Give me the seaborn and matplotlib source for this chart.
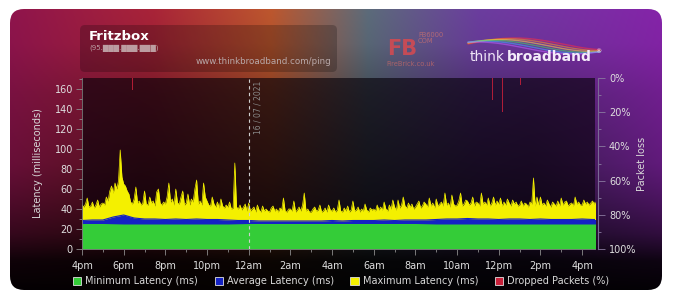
import numpy as np
import pandas as pd
import matplotlib
matplotlib.use("Agg")
import matplotlib.pyplot as plt
import seaborn as sns
from matplotlib.patches import FancyBboxPatch, Patch

# ---------------- data ----------------
x_tick_labels = ["4pm", "6pm", "8pm", "10pm", "12am", "2am", "4am",
                 "6am", "8am", "10am", "12pm", "2pm", "4pm"]
left_ticks = [0, 20, 40, 60, 80, 100, 120, 140, 160]
right_tick_labels = ["0%", "20%", "40%", "60%", "80%", "100%"]

# maximum latency, 5-minute samples starting 4pm (hours since 4pm = i/12)
max_latency = [
    44, 42, 45, 51, 42, 43, 47, 41, 44, 49, 42, 45,
    46, 44, 52, 48, 58, 63, 56, 66, 60, 68, 99, 72,
    65, 63, 58, 55, 47, 45, 50, 62, 46, 48, 44, 46,
    58, 45, 44, 52, 46, 48, 43, 57, 60, 46, 44, 47,
    45, 52, 66, 47, 50, 44, 60, 46, 45, 52, 58, 44,
    46, 55, 44, 50, 47, 60, 69, 45, 48, 44, 66, 52,
    48, 44, 43, 52, 45, 42, 47, 41, 50, 43, 41, 44,
    42, 47, 40, 41, 86, 42, 40, 44, 39, 42, 45, 38,
    46, 38, 40, 42, 37, 44, 39, 37, 43, 38, 40, 38,
    37, 41, 43, 38, 40, 37, 41, 39, 51, 38, 37, 40,
    40, 38, 48, 37, 39, 42, 38, 44, 56, 38, 40, 37,
    37, 40, 42, 38, 39, 44, 37, 38, 41, 37, 44, 39,
    38, 41, 37, 39, 49, 38, 37, 41, 38, 43, 37, 39,
    48, 38, 39, 42, 37, 40, 38, 45, 39, 37, 41, 39,
    40, 38, 44, 39, 42, 39, 47, 40, 38, 44, 40, 49,
    42, 39, 49, 41, 44, 52, 43, 41, 46, 42, 45, 40,
    42, 45, 48, 41, 43, 47, 45, 42, 51, 43, 46, 41,
    50, 43, 45, 47, 43, 56, 44, 46, 42, 54, 45, 43,
    44, 48, 56, 43, 45, 49, 48, 44, 46, 52, 43, 47,
    46, 43, 56, 45, 47, 44, 51, 43, 46, 52, 44, 48,
    45, 51, 43, 47, 44, 50, 46, 43, 49, 45, 47, 43,
    44, 48, 43, 46, 45, 42, 47, 45, 71, 43, 52, 44,
    52, 44, 46, 43, 49, 45, 42, 47, 45, 43, 48, 43,
    51, 44, 47, 48, 43, 45, 46, 43, 52, 45, 47, 44,
    44, 49, 45, 47, 44, 46, 48, 45, 49,
]
max_hours = [i / 12 for i in range(len(max_latency))]

# average latency, 30-minute samples
avg_latency = [
    28.5, 29, 29, 32, 34, 31, 30, 30, 29.5, 30, 29.5, 30,
    29.5, 29.5, 29, 28.5, 28.5, 28, 28, 28, 28, 28, 28, 28,
    28.5, 28, 28.5, 28.5, 28.5, 29, 28.5, 29, 29, 29, 29.5, 30,
    30, 30.5, 30, 30, 29.5, 30, 30, 29.5, 30, 29.5, 29.5, 29.5,
    30, 29.5, 29.5,
]
avg_hours = [i / 2 for i in range(len(avg_latency))]

# minimum latency, hourly samples
min_latency = [25.5, 25.5, 25, 25, 25, 25, 25, 25, 25.5, 25.5, 25.5, 25.5, 25.5,
               25.5, 25.5, 25.5, 25.5, 25, 25, 25, 25, 25, 25, 25, 25, 25]
min_hours = list(range(len(min_latency)))

# dropped packets (%)
drop_hours = [2.42, 19.70, 20.18, 21.05]
drop_pct = [7, 13, 20, 4]

# ---------------- styling ----------------
sns.set_theme(style="dark")
plt.rcParams["font.family"] = ["DejaVu Sans"]

W, H = 673, 297
fig = plt.figure(figsize=(W / 100, H / 100), dpi=100, facecolor="white")

# background card with gradient
bg = fig.add_axes([0, 0, 1, 1])
bg.set_xlim(0, W)
bg.set_ylim(H, 0)
bg.axis("off")

gx = np.linspace(0, 1, 340)
gy = np.linspace(0, 1, 150)
stops_x = [0.0, 0.22, 0.40, 0.55, 0.72, 1.0]
stops_c = np.array([
    [0.56, 0.08, 0.30],
    [0.66, 0.14, 0.22],
    [0.74, 0.34, 0.18],
    [0.36, 0.42, 0.48],
    [0.42, 0.24, 0.62],
    [0.52, 0.14, 0.66],
])
top = np.stack([np.interp(gx, stops_x, stops_c[:, k]) for k in range(3)], axis=1)
vfac = np.interp(gy, [0, 0.12, 0.3, 0.55, 0.8, 0.9, 1.0],
                 [1.0, 0.95, 0.72, 0.5, 0.25, 0.06, 0.03])
side = np.clip(1 - np.minimum(gx, 1 - gx) / 0.2, 0, 1)
fade = np.interp(gy, [0, 0.55, 0.9, 1.0], [1, 1, 0.1, 0])
boost = 0.45 * side[None, :] * fade[:, None]
v2 = vfac[:, None] + (1 - vfac[:, None]) * boost
img = np.clip(top[None, :, :] * v2[:, :, None], 0, 1)

card = FancyBboxPatch((10, 9), 652, 281, boxstyle="round,pad=0,rounding_size=14",
                      facecolor="none", edgecolor="none")
bg.add_patch(card)
im = bg.imshow(img, extent=(10, 662, 290, 9), aspect="auto", interpolation="bilinear")
im.set_clip_path(card)

# header box
bg.add_patch(FancyBboxPatch((80, 25), 257, 47, boxstyle="round,pad=0,rounding_size=5",
                            facecolor=(0, 0, 0, 0.22), edgecolor="none"))
bg.text(89, 36, "Fritzbox", color="white", fontsize=9.5, fontweight="bold", va="center")
bg.text(89, 48, "(95.\u2588\u2588\u2588.\u2588\u2588\u2588.\u2588\u2588\u2588)",
        color="#cfc0c0", fontsize=5, va="center", alpha=0.8)
bg.text(331, 62, "www.thinkbroadband.com/ping", color="#b8a8a8", fontsize=6.3,
        ha="right", va="center")

# FireBrick logo
bg.text(387, 49, "FB", color="#d84a50", fontsize=15, fontweight="bold", va="center", alpha=0.85)
bg.text(418, 38, "FB6000\nCOM", color="#c87070", fontsize=4.8, va="center", linespacing=1.0, alpha=0.8)
bg.text(386, 64, "FireBrick.co.uk", color="#c06868", fontsize=4.8, va="center", alpha=0.8)

# thinkbroadband logo with swoosh
sx = np.linspace(468, 600, 200)
for k, col in enumerate(["#ff3040", "#ff9a20", "#ffe040", "#40e060", "#40b0ff", "#c060ff"]):
    sy = 44 - 6 * np.sin((sx - 468) / 132 * np.pi * 1.4 + k * 0.25) + k * 0.8
    bg.plot(sx, sy, color=col, lw=1.0, alpha=0.55)
bg.text(470, 57, "think", color="#eee4f6", fontsize=10, va="center")
bg.text(507, 57, "broadband", color="#f4ecfa", fontsize=10, va="center", fontweight="bold")
bg.text(595, 52, "\u00ae", color="#f4ecfa", fontsize=4.5, va="center")

# ---------------- main plot ----------------
ax = fig.add_axes([82 / W, (H - 249) / H, (595 - 82) / W, (249 - 78) / H])
ax.set_facecolor((0.02, 0.0, 0.03, 0.62))

df_max = pd.DataFrame({"hours": max_hours, "ms": max_latency})
df_avg = pd.DataFrame({"hours": avg_hours, "ms": avg_latency})
df_min = pd.DataFrame({"hours": min_hours, "ms": min_latency})

yellow, blue, green, red = "#f4f000", "#1422c4", "#34cc38", "#c8203a"
ax.fill_between(df_max["hours"], 0, df_max["ms"], color=yellow, lw=0)
sns.lineplot(data=df_max, x="hours", y="ms", ax=ax, color=yellow, lw=0.5)
ax.fill_between(df_avg["hours"], 0, df_avg["ms"], color=blue, lw=0)
sns.lineplot(data=df_avg, x="hours", y="ms", ax=ax, color=blue, lw=0.8)
ax.fill_between(df_min["hours"], 0, df_min["ms"], color=green, lw=0)

ax.set_xlim(0, 24.62)
ax.set_ylim(0, 171)
ax.set_xlabel("")
ax.set_ylabel("")
ax.set_xticks(np.arange(0, 25, 2))
ax.set_xticklabels(x_tick_labels)
ax.set_xticks(np.arange(0, 25, 1), minor=True)
ax.set_yticks(left_ticks)
ax.set_yticks(np.arange(0, 171, 10), minor=True)
ax.tick_params(axis="both", which="both", direction="out", color="#8c8c8c",
               labelcolor="#dedede", labelsize=7, width=0.6)
ax.tick_params(axis="both", which="major", length=4, pad=2.5)
ax.tick_params(axis="x", which="major", pad=4.5)
ax.tick_params(axis="both", which="minor", length=2)
ax.tick_params(axis="x", which="both", bottom=True)
ax.tick_params(axis="y", which="both", left=True)
ax.grid(False)
for s in ["top", "right"]:
    ax.spines[s].set_visible(False)
for s in ["left", "bottom"]:
    ax.spines[s].set_visible(True)
    ax.spines[s].set_color("#7a7a7a")
    ax.spines[s].set_linewidth(0.6)

# midnight marker
ax.axvline(8, color="#d0d0d0", lw=0.8, ls=(0, (3, 3)))
ax.text(8.25, 168, "16 / 07 / 2021", rotation=90, color="#8a8a8a", fontsize=5.5,
        ha="left", va="top")

# packet loss axis
ax2 = ax.twinx()
ax2.set_ylim(100, 0)
ax2.bar(drop_hours, drop_pct, width=0.07, color=red, alpha=0.85, linewidth=0)
ax2.set_yticks([0, 20, 40, 60, 80, 100])
ax2.set_yticklabels(right_tick_labels)
ax2.set_yticks(np.arange(0, 101, 10), minor=True)
ax2.tick_params(axis="y", which="both", direction="out", color="#8a7aa0",
                labelcolor="#dedede", labelsize=7, width=0.6, right=True)
ax2.tick_params(axis="y", which="major", length=5, pad=3)
ax2.tick_params(axis="y", which="minor", length=2.5)
ax2.grid(False)
for s in ["top", "left", "bottom"]:
    ax2.spines[s].set_visible(False)
ax2.spines["right"].set_visible(True)
ax2.spines["right"].set_color("#7a6a94")
ax2.spines["right"].set_linewidth(0.8)
ax2.spines["right"].set_position(("outward", 2))

fig.text(38 / W, 1 - 163 / H, "Latency (milliseconds)", rotation=90, color="#d8d8d8",
         fontsize=7, ha="center", va="center")
fig.text(642 / W, 1 - 164 / H, "Packet loss", rotation=90, color="#d8d8d8",
         fontsize=7, ha="center", va="center")

handles = [Patch(facecolor=green, edgecolor="#e0e0e0", lw=0.6),
           Patch(facecolor=blue, edgecolor="#e0e0e0", lw=0.6),
           Patch(facecolor=yellow, edgecolor="#e0e0e0", lw=0.6),
           Patch(facecolor=red, edgecolor="#e0e0e0", lw=0.6)]
labels = ["Minimum Latency (ms)", "Average Latency (ms)",
          "Maximum Latency (ms)", "Dropped Packets (%)"]
fig.legend(handles, labels, loc="center", bbox_to_anchor=(341 / W, 1 - 281 / H), ncol=4,
           frameon=False, fontsize=7, labelcolor="#d8d8d8", handlelength=0.85,
           handleheight=0.85, handletextpad=0.4, columnspacing=1.7, borderaxespad=0)

fig.savefig("out.png", dpi=100, facecolor="white")
